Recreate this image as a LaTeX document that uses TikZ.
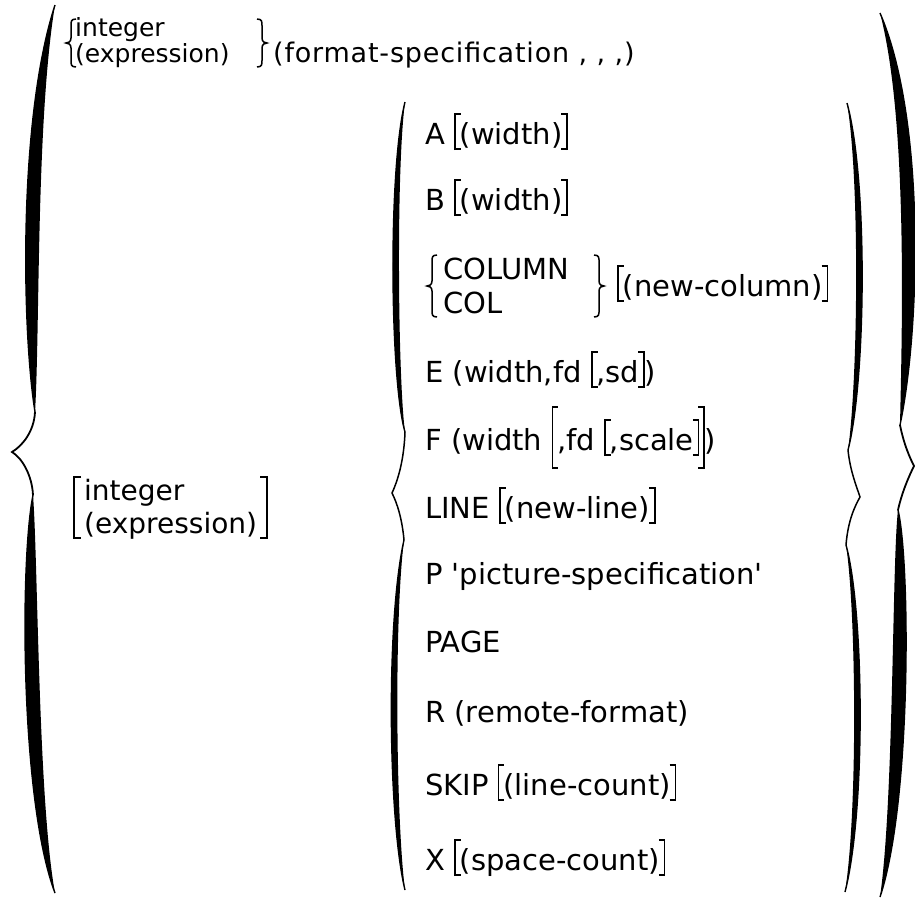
\documentclass[tikz,border=0pt]{standalone}
\usepackage{fontspec}
\setmainfont{DejaVu Sans}
\newfontfamily\fmtfam[LetterSpace=3]{DejaVu Sans}
\newcommand\optfont{\fontsize{29}{34}\selectfont}
\newcommand\labfont{\fontsize{25}{30}\selectfont}
\newcommand\midfont{\fontsize{28}{32}\selectfont}
\newcommand\fmtfont{\fmtfam\fontsize{27}{32}\selectfont}
% brackets built from rules: #1 depth, #2 height
\newcommand\lbk[2]{\rule[-#1]{1.6pt}{\dimexpr#1+#2\relax}\rlap{\rule[-#1]{5pt}{1.6pt}}\rlap{\rule[\dimexpr#2-1.6pt\relax]{5pt}{1.6pt}}\hspace{4pt}}
\newcommand\rbk[2]{\hspace{4pt}\llap{\rule[-#1]{5pt}{1.6pt}}\llap{\rule[\dimexpr#2-1.6pt\relax]{5pt}{1.6pt}}\rule[-#1]{1.6pt}{\dimexpr#1+#2\relax}}
\newcommand\sbk[1]{\lbk{6pt}{31pt}#1\rbk{6pt}{31pt}}
\newcommand\bbk[1]{\lbk{19pt}{44pt}#1\rbk{19pt}{44pt}}
% half of a big brace: end, c1, c2, kink point, thickness offset
\newcommand\bhalf[9]{%
  \fill[black] (#1,#2) .. controls (#3,#4) and (#5,#6) .. (#7,#8)
     .. controls ({#5+(#9)},#6) and ({#3+(#9)},#4) .. (#1,#2) -- cycle;
  \draw[line width=1.4pt] (#1,#2) .. controls (#3,#4) and (#5,#6) .. (#7,#8);}
% small brace: tip x, top y, bottom y, arm offset (neg for right brace)
\newcommand\smbrace[4]{%
  \pgfmathsetmacro\ymid{(#2+#3)/2}%
  \draw[smallbr] ({#1+(#4)},#2) .. controls ({#1+0.45*(#4)},#2) and ({#1+0.5*(#4)},{#2+3}) .. ({#1+0.5*(#4)},{#2+8})
    -- ({#1+0.5*(#4)},{\ymid-5}) .. controls ({#1+0.5*(#4)},{\ymid-1}) and ({#1+0.2*(#4)},\ymid) .. (#1,\ymid)
    .. controls ({#1+0.2*(#4)},\ymid) and ({#1+0.5*(#4)},{\ymid+1}) .. ({#1+0.5*(#4)},{\ymid+5})
    -- ({#1+0.5*(#4)},{#3-8}) .. controls ({#1+0.5*(#4)},{#3-3}) and ({#1+0.45*(#4)},#3) .. ({#1+(#4)},#3);}
\tikzset{
  opt/.style={anchor=base west, inner sep=0pt, font=\optfont},
  lab/.style={anchor=base west, inner sep=0pt, font=\labfont},
  midlab/.style={anchor=base west, inner sep=0pt, font=\midfont},
  fmt/.style={anchor=base west, inner sep=0pt, font=\fmtfont},
  kink/.style={line width=1.8pt, line join=miter, miter limit=20},
  thinkink/.style={line width=1.5pt, line join=miter, miter limit=20},
  smallbr/.style={line width=1.5pt},
  brk/.style={line width=1.6pt}
}
\begin{document}
\begin{tikzpicture}[x=1pt,y=-1pt]
\useasboundingbox (0,0) rectangle (915,898);
% ---- outer left brace
\bhalf{55}{5}{18}{120}{22}{330}{35}{412}{18}
\bhalf{55}{893}{20}{800}{20}{560}{33}{495}{18}
\draw[kink] (35,412) .. controls (34,432) and (22,446) .. (12,452) .. controls (22,458) and (32,475) .. (33,495);
% ---- outer right brace
\bhalf{880}{13}{926}{120}{920}{330}{900}{425}{-18}
\bhalf{880}{897}{912}{800}{910}{560}{898}{510}{-18}
\draw[kink] (900,425) .. controls (904,445) and (910,458) .. (914,466) .. controls (909,476) and (902,492) .. (898,510);
% ---- inner left brace
\bhalf{405}{102}{388}{170}{390}{380}{405}{432}{8}
\bhalf{405}{890}{388}{820}{386}{620}{404}{540}{8}
\draw[thinkink] (405,432) .. controls (404,460) and (398,480) .. (392,493) .. controls (397,503) and (402,518) .. (404,540);
% ---- inner right brace
\bhalf{847}{103}{868}{180}{866}{380}{848}{450}{-8}
\bhalf{845}{892}{866}{810}{864}{610}{846}{545}{-8}
\draw[thinkink] (848,450) .. controls (850,470) and (856,485) .. (860,497) .. controls (855,506) and (848,520) .. (846,545);
% ---- top label
\smbrace{66}{19}{67}{10}
\smbrace{267}{19}{67}{-10}
\node[lab] (tint) at (75,36) {integer};
\node[lab] (texp) at (75,62) {(expression)};
\node[fmt] (fmt) at (273,62) {(format-specification , , ,)};
% ---- middle label
\draw[brk] (81,477) -- (74,477) -- (74,538) -- (81,538);
\draw[brk] (260,477) -- (267,477) -- (267,538) -- (260,538);
\node[midlab] (mint) at (84,500) {integer};
\node[midlab] (mexp) at (84,533) {(expression)};
% ---- options
\node[opt] (oA) at (425,144) {A \sbk{(width)}};
\node[opt] (oB) at (425,210) {B \sbk{(width)}};
\smbrace{427}{255}{317}{10}
\smbrace{604}{255}{317}{-10}
\node[opt] (oCOLUMN) at (443,279) {COLUMN};
\node[opt] (oCOL) at (443,313) {COL};
\node[opt] (onewcol) at (617,296) {\sbk{(new-column)}};
\node[opt] (oE) at (425,382) {E (width,fd \sbk{,sd})};
\node[opt] (oF) at (425,450) {F (width \bbk{,fd \sbk{,scale}})};
\node[opt] (oLINE) at (425,518) {LINE \sbk{(new-line)}};
\node[opt] (oP) at (425,584) {P \textquotesingle picture-specification\textquotesingle};
\node[opt] (oPAGE) at (425,652) {PAGE};
\node[opt] (oR) at (425,722) {R (remote-format)};
\node[opt] (oSKIP) at (425,795) {SKIP \sbk{(line-count)}};
\node[opt] (oX) at (425,870) {X \sbk{(space-count)}};
\end{tikzpicture}
\end{document}
